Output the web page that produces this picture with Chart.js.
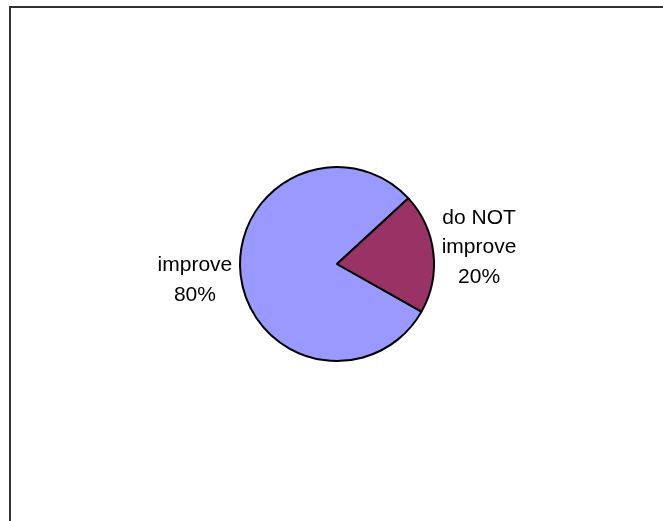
<!DOCTYPE html>
<html>
<head>
<meta charset="utf-8">
<script src="https://cdn.jsdelivr.net/npm/chart.js@4/dist/chart.umd.min.js"></script>
<style>
  html, body { margin: 0; padding: 0; background: #fff; }
  #wrap { width: 663px; height: 521px; position: relative; }
</style>
</head>
<body>
<div id="wrap"><canvas id="myChart" width="663" height="521"></canvas></div>
<script>
const labels = ["improve", "do NOT improve"];
const labelLines = [["improve"], ["do NOT", "improve"]];
const values = [80, 20];
const colors = ["#9999FF", "#993366"];

// frame of the chart object (only top and left edges are visible)
const framePlugin = {
  id: "frame",
  beforeDraw(chart) {
    const ctx = chart.ctx;
    ctx.save();
    ctx.strokeStyle = "#333333";
    ctx.lineWidth = 2;
    ctx.beginPath();
    ctx.moveTo(10, chart.height + 5);
    ctx.lineTo(10, 7);
    ctx.lineTo(chart.width + 5, 7);
    ctx.stroke();
    ctx.restore();
  },
};

// outside labels: category + percentage
const outsideLabels = {
  id: "outsideLabels",
  afterDatasetsDraw(chart) {
    const ctx = chart.ctx;
    const meta = chart.getDatasetMeta(0);
    const total = values.reduce((a, b) => a + b, 0);
    ctx.save();
    ctx.font = "21px 'Liberation Sans', Arial, sans-serif";
    ctx.fillStyle = "#000";
    ctx.textAlign = "center";
    ctx.textBaseline = "middle";
    const lineH = 29.5;
    meta.data.forEach((arc, i) => {
      const { x, y, startAngle, endAngle, outerRadius } = arc.getProps(
        ["x", "y", "startAngle", "endAngle", "outerRadius"], true
      );
      const mid = (startAngle + endAngle) / 2;
      const r = outerRadius + 46;
      const cx = x + Math.cos(mid) * r;
      const cy = y + Math.sin(mid) * r;
      const lines = labelLines[i].concat([Math.round((values[i] / total) * 100) + "%"]);
      const top = cy - ((lines.length - 1) * lineH) / 2;
      lines.forEach((t, k) => ctx.fillText(t, cx, top + k * lineH));
    });
    ctx.restore();
  },
};

new Chart(document.getElementById("myChart").getContext("2d"), {
  type: "pie",
  data: {
    labels: labels,
    datasets: [
      {
        data: values,
        backgroundColor: colors,
        borderColor: "#000",
        borderWidth: 2,
        radius: 97,
      },
    ],
  },
  options: {
    responsive: false,
    animation: false,
    rotation: 119.4,
    layout: { padding: { left: 11, right: 0, top: 7, bottom: 0 } },
    plugins: {
      legend: { display: false },
      tooltip: { enabled: false },
      title: { display: false },
    },
  },
  plugins: [framePlugin, outsideLabels],
});
</script>
</body>
</html>
